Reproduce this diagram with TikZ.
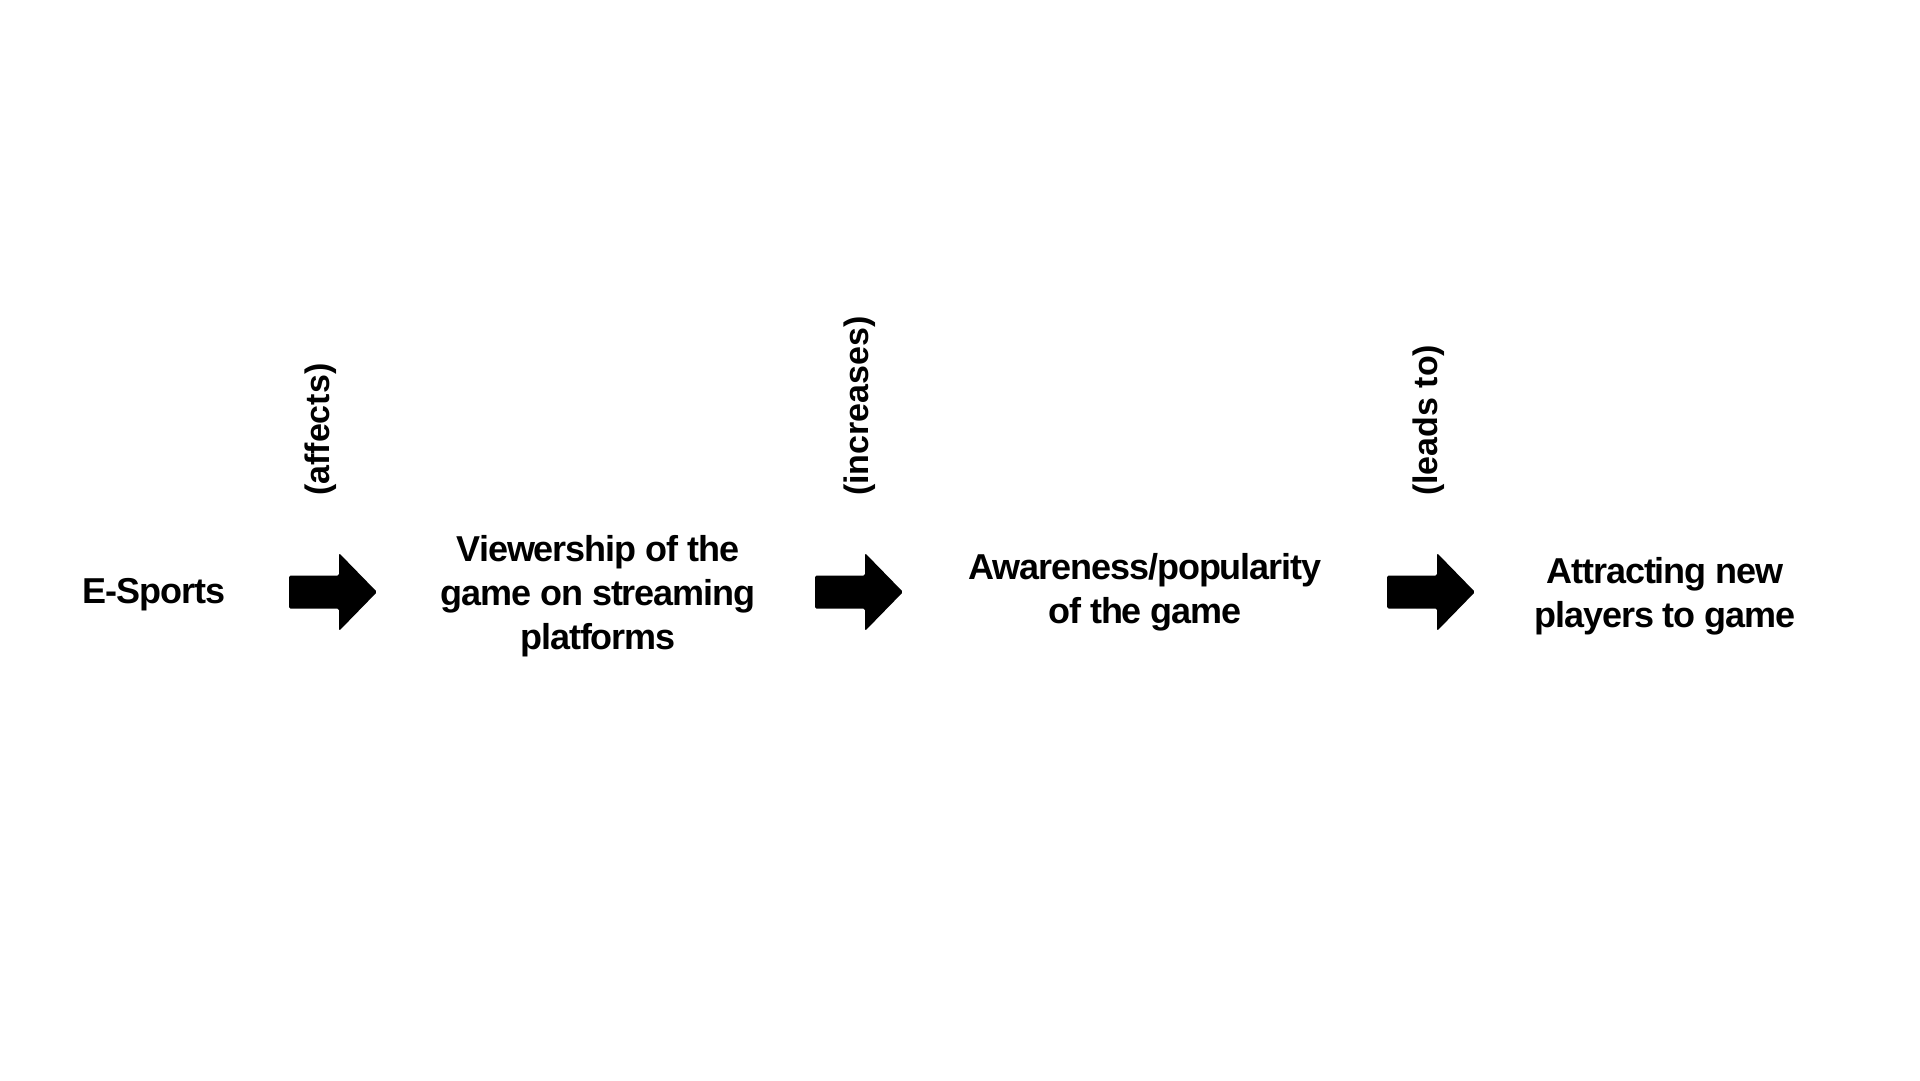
\documentclass[tikz,border=0pt]{standalone}
\usepackage{fontspec}
\setmainfont{Liberation Sans}
\newfontfamily\mainfnt[LetterSpace=-3]{Liberation Sans}
\begin{document}
\begin{tikzpicture}[x=1pt,y=-1pt,
  stage/.style={inner sep=0pt, align=center, font=\mainfnt\bfseries\fontsize{36}{44}\selectfont},
  relabel/.style={inner sep=0pt, rotate=90, anchor=west, font=\bfseries\fontsize{34}{40}\selectfont},
  blockarrow/.style={fill=black, rounded corners=1.5pt}]
\useasboundingbox[fill=white] (0,0) rectangle (1920,1080);

\node[stage] (esports) at (154,595) {E-Sports};
\node[stage] (view) at (598,596) {Viewership of the\\game on streaming\\platforms};
\node[stage] (aware) at (1145,592) {Awareness/popularity\\of the game};
\node[stage] (attract) at (1665,596) {Attracting new\\players to game};

\coordinate (a1) at (333,592);
\coordinate (a2) at (859,592);
\coordinate (a3) at (1431,592);

\foreach \a in {a1,a2,a3}{
  \fill[blockarrow, shift={(\a)}] (-44,-16.5) -- (6,-16.5) -- (6,-39) -- (44,0) -- (6,39) -- (6,16.5) -- (-44,16.5) -- cycle;
}

\node[relabel] (l1) at (321,496) {(affects)};
\node[relabel] (l2) at (860,496) {(increases)};
\node[relabel] (l3) at (1429,496) {(leads to)};
\end{tikzpicture}
\end{document}
